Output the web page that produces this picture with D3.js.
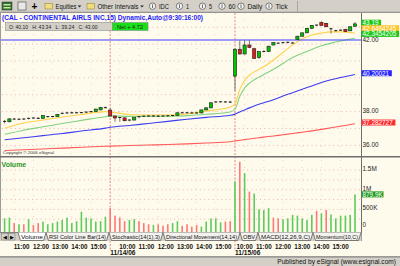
<!DOCTYPE html>
<html>
<head>
<meta charset="utf-8">
<script src="https://cdn.jsdelivr.net/npm/d3@7"></script>
<style>
html, body { margin: 0; padding: 0; background: #fffbec; overflow: hidden; }
svg { display: block; }
text { font-family: "Liberation Sans", Arial, sans-serif; }
</style>
</head>
<body>
<svg id="chart" width="400" height="266"></svg>
<script>
// CAL 15-minute bars, 11/13 (partial) to 11/15/06
const days = ["11/13/06", "11/14/06", "11/15/06"];
const dayBars = [22, 26, 26];
const dayStart = ["10:30", "9:30", "9:30"];
const hourLabels = ["10:00", "11:00", "12:00", "13:00", "14:00", "15:00"];

const opens = [37.38, 37.40, 37.57, 37.56, 37.55, 37.56, 37.60, 37.66, 37.60, 37.72, 37.70, 37.70, 37.86, 37.90, 37.92, 37.93, 37.93, 37.94, 37.97, 38.00, 38.10, 38.25,
  38.09, 37.74, 37.62, 37.63, 37.47, 37.50, 37.66, 37.70, 37.73, 37.74, 37.74, 37.73, 37.74, 37.75, 37.78, 37.93, 37.93, 37.93, 37.92, 37.92, 38.10, 38.22, 38.55, 38.57, 38.58, 38.62,
  40.10, 41.69, 41.41, 41.94, 41.72, 41.20, 41.55, 41.56, 41.94, 42.05, 42.07, 42.09, 42.10, 42.26, 42.46, 42.66, 42.93, 43.10, 43.28, 43.22, 42.92, 42.79, 42.82, 42.87, 42.78, 43.05];
const highs = [37.50, 37.60, 37.60, 37.58, 37.60, 37.64, 37.66, 37.68, 37.79, 37.74, 37.74, 37.86, 37.94, 37.96, 37.96, 37.98, 37.97, 38.00, 38.02, 38.17, 38.28, 38.30,
  38.22, 37.76, 37.68, 37.66, 37.54, 37.66, 37.72, 37.76, 37.76, 37.77, 37.80, 37.77, 37.78, 37.80, 37.96, 37.96, 37.97, 37.95, 37.96, 38.12, 38.26, 38.56, 38.60, 38.62, 38.62, 38.64,
  41.75, 42.20, 42.22, 42.22, 41.78, 41.58, 41.62, 41.90, 42.10, 42.08, 42.10, 42.14, 42.12, 42.49, 42.68, 42.95, 43.12, 43.14, 43.34, 43.26, 42.96, 42.84, 42.86, 42.90, 43.04, 43.30];
const lows = [37.30, 37.36, 37.52, 37.50, 37.52, 37.54, 37.58, 37.58, 37.58, 37.66, 37.66, 37.68, 37.84, 37.88, 37.88, 37.90, 37.90, 37.92, 37.94, 37.98, 38.08, 38.20,
  37.70, 37.40, 37.40, 37.42, 37.42, 37.48, 37.62, 37.68, 37.70, 37.70, 37.71, 37.70, 37.71, 37.73, 37.76, 37.90, 37.90, 37.89, 37.89, 37.90, 38.08, 38.20, 38.52, 38.54, 38.54, 38.52,
  39.24, 41.38, 41.38, 41.75, 41.12, 41.12, 41.50, 41.52, 41.92, 42.02, 42.04, 42.04, 42.02, 42.24, 42.44, 42.64, 42.90, 43.06, 43.08, 43.00, 42.62, 42.74, 42.78, 42.70, 42.76, 43.02];
const closes = [37.42, 37.57, 37.56, 37.55, 37.56, 37.60, 37.62, 37.60, 37.77, 37.70, 37.71, 37.84, 37.90, 37.92, 37.93, 37.93, 37.94, 37.97, 38.00, 38.15, 38.25, 38.23,
  37.74, 37.62, 37.65, 37.46, 37.50, 37.64, 37.70, 37.73, 37.74, 37.74, 37.73, 37.74, 37.75, 37.77, 37.93, 37.93, 37.93, 37.92, 37.92, 38.10, 38.22, 38.52, 38.57, 38.58, 38.57, 38.56,
  41.69, 41.41, 41.94, 41.80, 41.15, 41.55, 41.56, 41.87, 42.08, 42.05, 42.08, 42.10, 42.06, 42.46, 42.66, 42.93, 43.10, 43.12, 43.10, 43.02, 42.90, 42.79, 42.82, 42.73, 43.02, 43.19];

// volume in thousands, and whether the volume bar is drawn green
const volumes = [270, 290, 150, 120, 120, 250, 100, 150, 190, 120, 150, 190, 230, 290, 150, 200, 440, 290, 270, 190, 200, 310,
  530, 340, 290, 200, 230, 250, 200, 150, 120, 100, 120, 80, 120, 150, 200, 80, 120, 60, 100, 60, 190, 270, 270, 170, 190, 200,
  1200, 1710, 1420, 950, 900, 500, 480, 530, 290, 270, 250, 270, 360, 340, 270, 230, 360, 460, 400, 480, 370, 270, 340, 340, 360, 880];
const volUp = [1, 1, 0, 1, 0, 1, 0, 0, 1, 1, 1, 1, 1, 1, 1, 1, 1, 1, 1, 1, 1, 1,
  0, 0, 0, 0, 1, 1, 0, 0, 0, 1, 0, 0, 0, 1, 1, 0, 0, 0, 0, 1, 1, 1, 1, 1, 0, 0,
  1, 0, 1, 0, 1, 1, 1, 1, 0, 0, 1, 1, 1, 1, 1, 1, 1, 0, 1, 0, 1, 1, 1, 1, 1, 1];

// moving averages read at these bars
const maIdx = [0, 4, 8, 12, 16, 21, 22, 26, 30, 34, 38, 42, 47, 48, 49, 50, 51, 52, 53, 54, 56, 58, 60, 62, 64, 66, 68, 70, 73];
const maYellow = [37.01, 37.33, 37.50, 37.68, 37.83, 38.00, 37.98, 37.83, 37.80, 37.80, 37.86, 38.03, 38.27, 38.45, 39.30, 39.85, 40.15, 40.35, 40.50, 40.65, 41.05, 41.50, 41.95, 42.30, 42.53, 42.65, 42.72, 42.72, 42.65];
const maGreen = [36.66, 36.90, 37.10, 37.30, 37.48, 37.70, 37.74, 37.72, 37.72, 37.73, 37.76, 37.84, 37.98, 38.14, 38.90, 39.40, 39.68, 39.88, 40.04, 40.20, 40.50, 40.85, 41.20, 41.45, 41.68, 41.90, 42.05, 42.18, 42.345];
const maBlue = [36.33, 36.45, 36.58, 36.70, 36.85, 37.02, 37.07, 37.18, 37.30, 37.42, 37.55, 37.66, 37.78, 37.85, 37.98, 38.10, 38.22, 38.33, 38.43, 38.52, 38.70, 38.92, 39.12, 39.32, 39.52, 39.72, 39.88, 40.02, 40.20];
const maRed = [35.70, 35.74, 35.79, 35.84, 35.89, 35.95, 35.96, 35.99, 36.02, 36.05, 36.09, 36.14, 36.22, 36.26, 36.30, 36.34, 36.38, 36.42, 36.45, 36.49, 36.56, 36.63, 36.70, 36.78, 36.86, 36.95, 37.04, 37.13, 37.28];

const priceTicks = [36, 38, 40, 42];
const priceGrid = [36, 37, 38, 39, 40, 41, 42, 43];
const volTicks = [0, 500, 1000, 1500];
const volGrid = [250, 500, 750, 1000, 1250, 1500];
const tagLabels = ["43.19", "42.6484245", "42.3454205", "40.20021", "37.282727"];
const tagValues = [43.19, 42.6484245, 42.3454205, 40.20021, 37.282727];
const tagColors = ["#19c819", "#ffc21f", "#19c819", "#2424ff", "#ff2e2e"];
const levelLine = 42.24;
const tabs = ["Volume", "RSI Color Line Bar(14)", "Stochastic(14(1),3)", "Directional Movement(14,14)", "OBV", "MACD(12,26,9,C)", "Momentum(10,C)"];
const tabEdges = [18, 46, 109, 163, 240, 258, 313, 361];

const svg = d3.select("#chart");
const cream = "#fffbec", gray = "#d4d0c8";

const x = d3.scaleBand().domain(d3.range(closes.length)).range([2.2, 357.4]);
const cx = i => x(i) + x.bandwidth() / 2;
const y = d3.scaleLinear().domain([36, 42]).range([145.4, 44]);
const yv = d3.scaleLinear().domain([0, 1500]).range([229, 170]);

// bar times
const bars = [];
days.forEach((d, k) => {
  const [h, m] = dayStart[k].split(":").map(Number);
  for (let b = 0; b < dayBars[k]; b++) {
    const t = h * 60 + m + 15 * b;
    bars.push({day: k, first: b === 0, label: Math.floor(t / 60) + ":" + String(t % 60).padStart(2, "0")});
  }
});
const hourBars = d3.range(bars.length).filter(i => hourLabels.includes(bars[i].label));
const dayBreaks = d3.range(bars.length).filter(i => bars[i].first && bars[i].day > 0);

svg.append("rect").attr("width", 400).attr("height", 266).attr("fill", cream);

const defs = svg.append("defs");
defs.append("clipPath").attr("id", "cp").append("rect").attr("x", 1).attr("y", 13).attr("width", 360).attr("height", 143);
defs.append("clipPath").attr("id", "cv").append("rect").attr("x", 1).attr("y", 158).attr("width", 360).attr("height", 74);

// grid
const grid = svg.append("g").attr("stroke", "#e2a6a6").attr("stroke-width", 0.8).attr("stroke-dasharray", "1,3.3");
grid.selectAll("line.p").data(priceGrid).join("line")
  .attr("x1", 2).attr("x2", 361).attr("y1", d => y(d)).attr("y2", d => y(d));
grid.selectAll("line.v").data(volGrid).join("line").attr("class", "v")
  .attr("x1", 2).attr("x2", 361).attr("y1", d => yv(d)).attr("y2", d => yv(d));
grid.selectAll("line.h").data(hourBars).join("line").attr("class", "h")
  .attr("stroke-dasharray", "1,6").attr("opacity", 0.6)
  .attr("x1", d => cx(d)).attr("x2", d => cx(d)).attr("y1", 13).attr("y2", 232);
svg.append("g").selectAll("line").data(dayBreaks).join("line")
  .attr("stroke", "#e07a7a").attr("stroke-width", 0.9).attr("stroke-dasharray", "2,1.5")
  .attr("x1", d => cx(d)).attr("x2", d => cx(d)).attr("y1", 13).attr("y2", 250);

// moving averages
const price = svg.append("g").attr("clip-path", "url(#cp)");
const maLine = d3.line().x(d => cx(d[0])).y(d => y(d[1])).curve(d3.curveMonotoneX);
[[maRed, "#ff5a5a"], [maBlue, "#3c3cf0"], [maGreen, "#82d282"], [maYellow, "#ffd24a"]].forEach(([vals, col]) => {
  price.append("path").datum(maIdx.map((i, k) => [i, vals[k]]))
    .attr("fill", "none").attr("stroke", col).attr("stroke-width", 1.1).attr("d", maLine);
});
price.append("line").attr("x1", 0).attr("x2", 361).attr("y1", y(levelLine)).attr("y2", y(levelLine))
  .attr("stroke", "#3c3cff").attr("stroke-width", 1.1);

// candles
const bw = 3.2;
const cg = price.append("g").selectAll("g").data(d3.range(closes.length)).join("g");
cg.append("line").attr("x1", cx).attr("x2", cx)
  .attr("y1", i => y(highs[i])).attr("y2", i => y(lows[i]))
  .attr("stroke", "#555").attr("stroke-width", 0.8);
cg.filter(i => Math.abs(y(opens[i]) - y(closes[i])) >= 1.2).append("rect")
  .attr("x", i => cx(i) - bw / 2).attr("width", bw)
  .attr("y", i => y(Math.max(opens[i], closes[i])))
  .attr("height", i => Math.abs(y(opens[i]) - y(closes[i])))
  .attr("fill", i => closes[i] > opens[i] ? "#00c400" : "#e41a1a")
  .attr("stroke", "#1c1c1c").attr("stroke-width", 0.6);
cg.filter(i => Math.abs(y(opens[i]) - y(closes[i])) < 1.2).append("line")
  .attr("x1", i => cx(i) - 1.5).attr("x2", i => cx(i) + 1.5)
  .attr("y1", i => y(closes[i])).attr("y2", i => y(closes[i]))
  .attr("stroke", "#1a1a1a").attr("stroke-width", 1);

// annotation arrows: tip at a bar and price, a flat stroke and a slanted stroke
const arrow = (i, p, len, dx, dy, col) => {
  const ax = cx(i), ay = y(p);
  price.append("path").attr("fill", "none").attr("stroke", col).attr("stroke-width", 1.2)
    .attr("d", `M${ax + len},${ay}H${ax}L${ax + dx},${ay + dy}`);
};
arrow(40.1, 37.8, 10, 8, 8, "#2a2aff");
arrow(55.8, 41.52, 12, 9, 8, "#2a2aff");
arrow(45.9, 38.57, 11, 6, -8, "#ff2a2a");

// volume
const vol = svg.append("g").attr("clip-path", "url(#cv)");
vol.selectAll("rect").data(d3.range(volumes.length)).join("rect")
  .attr("x", i => cx(i) - 0.8).attr("width", 1.6)
  .attr("y", i => yv(volumes[i])).attr("height", i => yv(0) - yv(volumes[i]) + 4)
  .attr("fill", i => volUp[i] ? "#5ccc5c" : "#ff7878");

// frames
svg.append("line").attr("x1", 0.5).attr("x2", 0.5).attr("y1", 13).attr("y2", 241).attr("stroke", "#9a9a9a");
svg.append("line").attr("x1", 361.5).attr("x2", 361.5).attr("y1", 13).attr("y2", 241).attr("stroke", "#6e6e6e");
svg.append("line").attr("x1", 0).attr("x2", 400).attr("y1", 156.8).attr("y2", 156.8).attr("stroke", "#6e6e6e").attr("stroke-width", 1.4);

// text on panels
svg.append("text").attr("x", 2).attr("y", 20).attr("fill", "#1c1cff").attr("font-weight", "bold")
  .attr("font-size", 7.6).attr("textLength", 201).attr("lengthAdjust", "spacingAndGlyphs")
  .text("(CAL - CONTINENTAL AIRLS INC,15) Dynamic,Auto@9:30:16:00)");
svg.append("rect").attr("x", 5.5).attr("y", 22.5).attr("width", 107).attr("height", 8).attr("fill", gray).attr("stroke", "#8a8a8a").attr("stroke-width", 0.6);
svg.append("rect").attr("x", 112.5).attr("y", 22.5).attr("width", 35.5).attr("height", 8).attr("fill", "#18e018").attr("stroke", "#8a8a8a").attr("stroke-width", 0.6);
const info = ["O: 40.10", "H: 43.34", "L: 39.24", "C: 43.00"];
svg.append("g").selectAll("text").data(info).join("text")
  .attr("x", (d, k) => 9 + k * 23.2).attr("y", 28.8).attr("font-size", 5.6).attr("fill", "#222")
  .attr("textLength", 19).attr("lengthAdjust", "spacingAndGlyphs").text(d => d);
svg.append("text").attr("x", 117).attr("y", 28.8).attr("font-size", 5.6).attr("fill", "#222")
  .attr("textLength", 26).attr("lengthAdjust", "spacingAndGlyphs").text("Net + 4.72");
svg.append("text").attr("x", 3).attr("y", 154).attr("font-size", 4.4).attr("fill", "#333")
  .attr("textLength", 52).attr("lengthAdjust", "spacingAndGlyphs").text("Copyright \u00a9 2006 eSignal.");
svg.append("text").attr("x", 1.5).attr("y", 166.5).attr("font-size", 7).attr("font-weight", "bold").attr("fill", "#2a962a").text("Volume");

// right price axis labels and tags
const items = priceTicks.map(v => ({v, label: v.toFixed(2), tag: false}))
  .concat(tagValues.map((v, k) => ({v, label: tagLabels[k], tag: true, col: tagColors[k]})))
  .sort((a, b) => b.v - a.v);
items.forEach(d => { d.hidden = !d.tag && tagValues.some(t => Math.abs(y(t) - y(d.v)) < 4); });
let prev = null;
items.forEach(d => {
  const nat = y(d.v) - 1.2;
  d.py = prev !== null && nat - prev < 12 ? prev + 5.6 : nat;
  prev = d.py;
});
const ax = svg.append("g");
ax.selectAll("text.l").data(items.filter(d => !d.tag && !d.hidden)).join("text")
  .attr("x", 362.5).attr("y", d => d.py + 2.3).attr("font-size", 6.4).attr("fill", "#222").text(d => d.label);
const tg = ax.selectAll("g").data(items.filter(d => d.tag)).join("g");
tg.append("rect").attr("x", 361.5).attr("y", d => d.py - 3).attr("height", 6)
  .attr("width", d => d.label.length * 3.6 + 1.5).attr("fill", d => d.col);
tg.append("text").attr("x", 362.5).attr("y", d => d.py + 2.3).attr("font-size", 6.4).attr("fill", "#fff").text(d => d.label);

// volume axis labels
const vlab = v => v === 0 ? "0" : v >= 1000 ? (v / 1000) + "M" : v + "K";
ax.selectAll("text.v").data(volTicks).join("text").attr("class", "v")
  .attr("x", 362.5).attr("y", d => Math.min(yv(d) + 1, 227)).attr("font-size", 6.4).attr("fill", "#222").text(vlab);
ax.append("rect").attr("x", 361.5).attr("y", yv(volumes[volumes.length - 1]) - 3).attr("width", 22).attr("height", 6).attr("fill", "#1f9a1f");
ax.append("text").attr("x", 362.5).attr("y", yv(volumes[volumes.length - 1]) + 2.3).attr("font-size", 6.4).attr("fill", "#fff")
  .text((volumes[volumes.length - 1] - 0.1).toFixed(1) + "K");

// tab strip
svg.append("rect").attr("x", 0).attr("y", 232).attr("width", 361.5).attr("height", 9).attr("fill", gray);
svg.append("line").attr("x1", 0).attr("x2", 361.5).attr("y1", 232.5).attr("y2", 232.5).attr("stroke", "#6e6e6e").attr("stroke-width", 0.8);
["\u25c0", "\u25b6"].forEach((s, k) => {
  svg.append("rect").attr("x", 1.5 + k * 7).attr("y", 233.5).attr("width", 6.5).attr("height", 6.5).attr("fill", gray).attr("stroke", "#777").attr("stroke-width", 0.5);
  svg.append("text").attr("x", 4.8 + k * 7).attr("y", 238.8).attr("font-size", 4.5).attr("text-anchor", "middle").text(s);
});
const tabG = svg.append("g").selectAll("g").data(tabs).join("g");
tabG.append("path")
  .attr("d", (d, k) => `M${tabEdges[k]},232.5L${tabEdges[k] + 2.5},240.5H${tabEdges[k + 1] - 2.5}L${tabEdges[k + 1]},232.5`)
  .attr("fill", (d, k) => k === 0 ? "#ffffff" : "#f3f2ee").attr("stroke", "#333").attr("stroke-width", 0.6);
tabG.append("text").attr("x", (d, k) => (tabEdges[k] + tabEdges[k + 1]) / 2).attr("y", 238.9)
  .attr("text-anchor", "middle").attr("font-size", 5.4).attr("fill", "#111")
  .attr("textLength", (d, k) => tabEdges[k + 1] - tabEdges[k] - 6).attr("lengthAdjust", "spacingAndGlyphs").text(d => d);

// time axis: the first two sessions' labels start at the tick, the last session's sit centred
const dayAnchor = ["start", "start", "middle"];
svg.append("g").selectAll("text").data(hourBars).join("text")
  .attr("x", i => cx(i) - (bars[i].day < 2 ? 0.5 : 0)).attr("y", 248.5)
  .attr("text-anchor", i => dayAnchor[bars[i].day]).attr("font-size", 6.3).attr("font-weight", "bold")
  .attr("fill", "#111").text(i => bars[i].label);
svg.append("g").selectAll("text").data(dayBreaks).join("text")
  .attr("x", cx).attr("y", 255).attr("font-size", 6.6).attr("font-weight", "bold")
  .attr("fill", "#111").text(i => days[bars[i].day]);

// status bar
svg.append("rect").attr("x", 0).attr("y", 256.5).attr("width", 400).attr("height", 10).attr("fill", gray);
svg.append("line").attr("x1", 0).attr("x2", 400).attr("y1", 256.8).attr("y2", 256.8).attr("stroke", "#808080").attr("stroke-width", 1.2);
svg.append("text").attr("x", 396).attr("y", 264.2).attr("text-anchor", "end").attr("font-size", 6.6).attr("fill", "#111")
  .text("Published by eSignal (www.esignal.com)");

// toolbar
const tb = svg.append("g");
tb.append("rect").attr("width", 400).attr("height", 12.5).attr("fill", gray);
tb.append("line").attr("x1", 0).attr("x2", 400).attr("y1", 12.3).attr("y2", 12.3).attr("stroke", "#808080");
tb.append("rect").attr("x", 2).attr("y", 2).attr("width", 10).attr("height", 8).attr("fill", "#2f6f2f").attr("stroke", "#333").attr("stroke-width", 0.5);
tb.append("rect").attr("x", 3.5).attr("y", 4).attr("width", 7).attr("height", 1.5).attr("fill", "#c8e8a0");
tb.append("rect").attr("x", 3.5).attr("y", 7).attr("width", 7).attr("height", 1.5).attr("fill", "#c8e8a0");
tb.append("rect").attr("x", 18).attr("y", 2).attr("width", 8).attr("height", 8).attr("fill", "#e8e8e8").attr("stroke", "#444").attr("stroke-width", 0.6);
tb.append("text").attr("x", 34.5).attr("y", 10).attr("font-size", 10).attr("font-weight", "bold").attr("text-anchor", "middle").text("+");
const tbText = [["Equities", 55.5, 21], ["Other Intervals", 97.5, 41], ["IDC", 159, 10], ["1", 186, 3], ["5", 209, 3], ["60", 228.5, 7], ["Daily", 247.5, 15], ["Tick", 275.5, 12]];
[45, 87].forEach(fx => tb.append("rect").attr("x", fx).attr("y", 3.5).attr("width", 7.5).attr("height", 5.5).attr("fill", "#f0dc7c").attr("stroke", "#8a7a30").attr("stroke-width", 0.5));
[79.5, 142].forEach(fx => tb.append("path").attr("d", `M${fx - 1.8},5.5h3.6l-1.8,2z`).attr("fill", "#222"));
[152.5, 179.5, 202.5, 222, 241, 269].forEach(fx => {
  tb.append("circle").attr("cx", fx).attr("cy", 6.2).attr("r", 3.2).attr("fill", "#f4f4f4").attr("stroke", "#333").attr("stroke-width", 0.6);
  tb.append("line").attr("x1", fx).attr("x2", fx).attr("y1", 4.4).attr("y2", 8).attr("stroke", "#333").attr("stroke-width", 0.7);
});
tb.selectAll("text.t").data(tbText).join("text").attr("class", "t")
  .attr("x", d => d[1]).attr("y", 8.8).attr("font-size", 6.4).attr("fill", "#111")
  .attr("textLength", d => d[2]).attr("lengthAdjust", "spacingAndGlyphs").text(d => d[0]);
tb.append("line").attr("x1", 297.5).attr("x2", 297.5).attr("y1", 1).attr("y2", 12).attr("stroke", "#888").attr("stroke-width", 0.6);
</script>
</body>
</html>
